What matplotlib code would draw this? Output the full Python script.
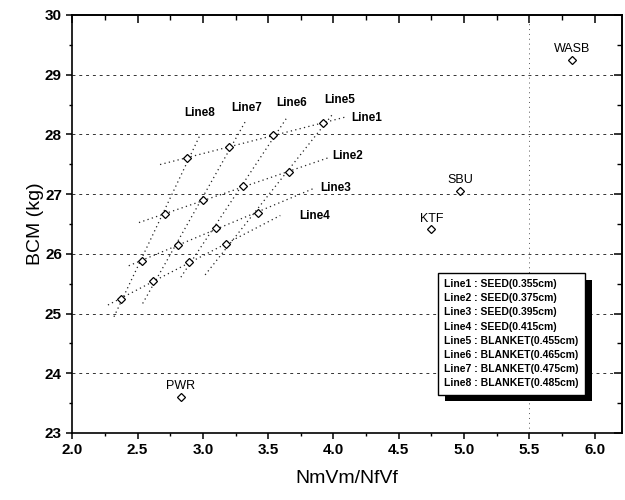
import numpy as np
import matplotlib.pyplot as plt
from matplotlib.ticker import MultipleLocator, FormatStrFormatter
import matplotlib.patheffects as pe


# ============================================================
# 1. DATA
# ============================================================

# rows = SEED lines (Line1..Line4), columns = BLANKET lines (Line5..Line8)
ratio = np.array([
    [3.92, 3.54, 3.20, 2.88],   # Line1
    [3.66, 3.31, 3.00, 2.71],   # Line2
    [3.42, 3.10, 2.81, 2.53],   # Line3
    [3.18, 2.89, 2.62, 2.37],   # Line4
])
bcm = np.array([
    [28.19, 27.99, 27.79, 27.61],
    [27.37, 27.14, 26.90, 26.66],
    [26.69, 26.43, 26.15, 25.88],
    [26.16, 25.86, 25.55, 25.24],
])

seed_names = ["Line1", "Line2", "Line3", "Line4"]
blanket_names = ["Line5", "Line6", "Line7", "Line8"]
legend_lines = [
    "Line1 : SEED(0.355cm)",
    "Line2 : SEED(0.375cm)",
    "Line3 : SEED(0.395cm)",
    "Line4 : SEED(0.415cm)",
    "Line5 : BLANKET(0.455cm)",
    "Line6 : BLANKET(0.465cm)",
    "Line7 : BLANKET(0.475cm)",
    "Line8 : BLANKET(0.485cm)",
]

# other reactor designs
design_names = ["PWR", "KTF", "SBU", "WASB"]
design_ratio = [2.83, 4.75, 4.97, 5.83]
design_bcm = [23.60, 26.41, 27.05, 29.25]


# ============================================================
# 2. LAYOUT / STYLE
# ============================================================

plt.rcParams["font.family"] = ["Liberation Sans", "DejaVu Sans"]

# how far each fitted line runs past its end points (fraction of x-range)
seed_ext = [(0.20, 0.17), (0.21, 0.33), (0.11, 0.48), (0.12, 0.51)]
blanket_ext = [(0.22, 0.11), (0.09, 0.15), (0.14, 0.22), (0.10, 0.20)]

seed_label_pos = [(4.14, 28.27), (3.99, 27.64), (3.90, 27.10), (3.74, 26.63)]
blanket_label_pos = [(3.93, 28.58), (3.56, 28.52), (3.22, 28.44), (2.86, 28.36)]

line_kw = dict(color="#222222", lw=0.9, ls=(0, (1, 2.6)), zorder=2)
mark_kw = dict(marker="D", ms=4, mfc="white", mec="black", mew=0.9,
               ls="none", zorder=4)


def fitted_line(ax, x, y, ext):
    k, b = np.polyfit(x, y, 1)
    span = x.max() - x.min()
    xs = np.array([x.min() - ext[0] * span, x.max() + ext[1] * span])
    ax.plot(xs, k * xs + b, **line_kw)


# ============================================================
# 3. PLOT
# ============================================================

fig = plt.figure(figsize=(6.25, 5), dpi=100)
ax = fig.add_axes([0.1157, 0.134, 0.8795, 0.836])

for i in range(4):
    fitted_line(ax, ratio[i], bcm[i], seed_ext[i])
    fitted_line(ax, ratio[:, i], bcm[:, i], blanket_ext[i])

ax.plot(ratio.ravel(), bcm.ravel(), **mark_kw)
ax.plot(design_ratio, design_bcm, **mark_kw)

for name, (x, y) in zip(seed_names + blanket_names,
                        seed_label_pos + blanket_label_pos):
    ax.text(x, y, name, fontsize=8.5, fontweight="bold", ha="left", va="center")

for name, x, y in zip(design_names, design_ratio, design_bcm):
    ax.annotate(name, (x, y), xytext=(0, 3.5), textcoords="offset points",
                fontsize=9, ha="center", va="bottom")

# text box with hard black shadow
box = ax.text(0.677, 0.368, "\n".join(legend_lines), transform=ax.transAxes,
              fontsize=7.5, fontweight="bold", ha="left", va="top",
              linespacing=1.52, zorder=6,
              bbox=dict(boxstyle="square,pad=0.6", fc="white", ec="black", lw=1))
box.get_bbox_patch().set_path_effects([
    pe.SimplePatchShadow(offset=(5, -5), shadow_rgbFace="black", alpha=1),
    pe.Normal(),
])

# grid
for yv in range(24, 30):
    ax.axhline(yv, color="#333333", lw=0.7, ls=(0, (3, 4)), zorder=1)
ax.axvline(5.5, color="#555555", lw=0.7, ls=(0, (1, 4)), zorder=1)

ax.set_xlim(2.0, 6.21)
ax.set_ylim(23, 30)
ax.xaxis.set_major_locator(MultipleLocator(0.5))
ax.xaxis.set_minor_locator(MultipleLocator(0.25))
ax.xaxis.set_major_formatter(FormatStrFormatter("%.1f"))
ax.yaxis.set_major_locator(MultipleLocator(1))
ax.yaxis.set_minor_locator(MultipleLocator(0.5))

ax.tick_params(which="major", direction="out", length=4.5, width=1.1,
               labelsize=11, pad=3)
ax.tick_params(which="minor", direction="out", length=2.5, width=1.0)
for lbl in ax.get_xticklabels() + ax.get_yticklabels():
    lbl.set_fontweight("bold")
for sp in ax.spines.values():
    sp.set_linewidth(1.2)

# mirrored ticks pointing inward on top and right
top = ax.secondary_xaxis("top")
right = ax.secondary_yaxis("right")
top.xaxis.set_major_locator(MultipleLocator(0.5))
top.xaxis.set_minor_locator(MultipleLocator(0.25))
right.yaxis.set_major_locator(MultipleLocator(1))
right.yaxis.set_minor_locator(MultipleLocator(0.5))
for sec in (top, right):
    sec.tick_params(which="major", direction="in", length=6, width=1.1,
                    labeltop=False, labelright=False)
    sec.tick_params(which="minor", direction="in", length=3.5, width=1.0)
    for sp in sec.spines.values():
        sp.set_linewidth(1.2)

ax.set_xlabel("NmVm/NfVf", fontsize=14, labelpad=9)
ax.set_ylabel("BCM (kg)", fontsize=14, labelpad=1)

fig.savefig("out.png", dpi=100)
